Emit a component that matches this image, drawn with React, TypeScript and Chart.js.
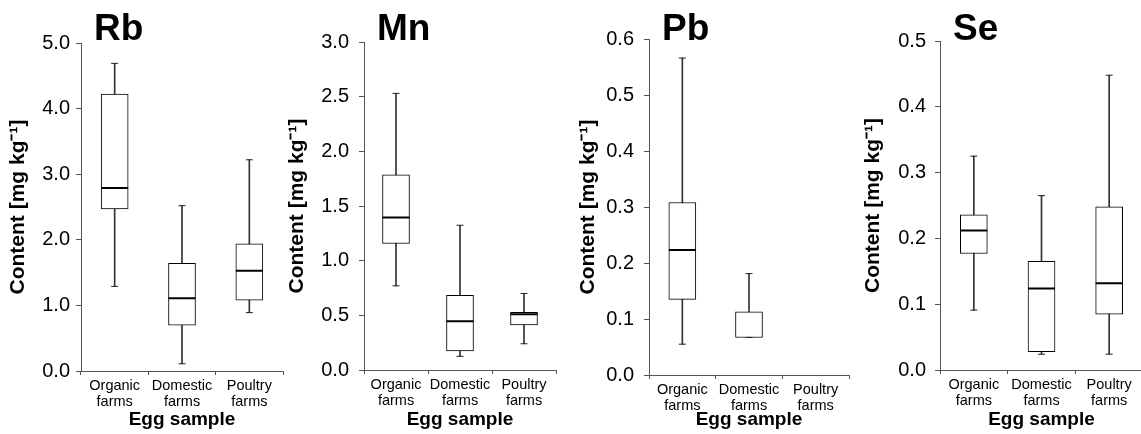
import React, { useEffect, useRef } from "react";
import { Chart, registerables } from "chart.js";

Chart.register(...registerables);

// ---------- DATA ----------
const categories = [
  ["Organic", "farms"],
  ["Domestic", "farms"],
  ["Poultry", "farms"],
];
const elementNames = ["Rb", "Mn", "Pb", "Se"];
const xAxisTitle = "Egg sample";
const yAxisTitle = "Content [mg kg⁻¹]";

// box-plot statistics per category: Organic, Domestic, Poultry
const rbMin = [1.29, 0.11, 0.89];
const rbQ1 = [2.47, 0.7, 1.08];
const rbMedian = [2.79, 1.11, 1.53];
const rbQ3 = [4.22, 1.64, 1.94];
const rbMax = [4.69, 2.52, 3.22];

const mnMin = [0.77, 0.125, 0.24];
const mnQ1 = [1.157, 0.174, 0.412];
const mnMedian = [1.395, 0.445, 0.51];
const mnQ3 = [1.785, 0.684, 0.528];
const mnMax = [2.53, 1.324, 0.7];

// Pb in poultry-farm eggs: no values shown
const pbMin = [0.055, 0.067, null];
const pbQ1 = [0.135, 0.067, null];
const pbMedian = [0.223, null, null];
const pbQ3 = [0.308, 0.113, null];
const pbMax = [0.566, 0.181, null];

const seMin = [0.091, 0.024, 0.024];
const seQ1 = [0.177, 0.028, 0.085];
const seMedian = [0.212, 0.124, 0.132];
const seQ3 = [0.236, 0.165, 0.248];
const seMax = [0.325, 0.265, 0.448];

const yMaxValues = [5, 3, 0.6, 0.5];
const yStepValues = [1, 0.5, 0.1, 0.1];

const stats = [
  { min: rbMin, q1: rbQ1, median: rbMedian, q3: rbQ3, max: rbMax },
  { min: mnMin, q1: mnQ1, median: mnMedian, q3: mnQ3, max: mnMax },
  { min: pbMin, q1: pbQ1, median: pbMedian, q3: pbQ3, max: pbMax },
  { min: seMin, q1: seQ1, median: seMedian, q3: seQ3, max: seMax },
];

// ---------- LAYOUT (pixel geometry of each panel) ----------
const W = 1141;
const H = 434;
const LAYOUT = [
  { left: 81, right: 283, top: 43, bottom: 371, yTitleX: 18, tickPad: 6 },
  { left: 364, right: 556, top: 42, bottom: 370, yTitleX: 297, tickPad: 10 },
  { left: 649, right: 849, top: 39, bottom: 375, yTitleX: 588, tickPad: 10 },
  { left: 940, right: 1143, top: 41, bottom: 370, yTitleX: 873, tickPad: 9 },
];

const FONT = '"Liberation Sans", Arial, Helvetica, sans-serif';
const AXIS_COLOR = "#555";

const panelTitlePlugin = {
  id: "panelTitle",
  afterDraw(chart: any, _args: any, opts: any) {
    const ctx = chart.ctx;
    ctx.save();
    ctx.font = `bold 37px ${FONT}`;
    ctx.fillStyle = "#000";
    ctx.textAlign = "left";
    ctx.textBaseline = "alphabetic";
    ctx.fillText(opts.text, chart.chartArea.left + 13, 40);
    ctx.restore();
  },
};

const pair = (a: (number | null)[], b: (number | null)[]) =>
  a.map((v, i) => (v == null || b[i] == null ? null : [v, b[i]]));

function Panel({ index }: { index: number }) {
  const ref = useRef<HTMLCanvasElement | null>(null);
  const lay = LAYOUT[index];
  const canvasLeft = lay.yTitleX - 14;
  const canvasWidth = lay.right + 10 - canvasLeft;

  useEffect(() => {
    if (!ref.current) return;
    const s = stats[index];
    const yAxisWidth = lay.left - canvasLeft;
    const xAxisHeight = H - lay.bottom;
    const chart = new Chart(ref.current, {
      type: "bar",
      data: {
        labels: categories as any,
        datasets: [
          {
            type: "bar",
            label: "whisker",
            data: pair(s.min, s.max) as any,
            backgroundColor: "#333",
            barThickness: 1,
            grouped: false,
            order: 3,
          },
          {
            type: "bar",
            label: "box",
            data: pair(s.q1, s.q3) as any,
            backgroundColor: "#fff",
            borderColor: "#000",
            borderWidth: 1,
            borderSkipped: false,
            barThickness: 27,
            grouped: false,
            order: 2,
          },
          {
            type: "line",
            label: "median",
            data: s.median,
            showLine: false,
            pointStyle: "line",
            pointRadius: 13.5,
            pointBorderWidth: 2,
            pointBorderColor: "#000",
            borderColor: "#000",
            order: 1,
          },
          {
            type: "line",
            label: "max",
            data: s.max,
            showLine: false,
            pointStyle: "line",
            pointRadius: 3.5,
            pointBorderWidth: 1,
            pointBorderColor: "#222",
            borderColor: "#222",
            order: 1,
          },
          {
            type: "line",
            label: "min",
            data: s.min,
            showLine: false,
            pointStyle: "line",
            pointRadius: 3.5,
            pointBorderWidth: 1,
            pointBorderColor: "#222",
            borderColor: "#222",
            order: 1,
          },
        ] as any,
      },
      options: {
        animation: false,
        responsive: false,
        maintainAspectRatio: false,
        layout: {
          autoPadding: false,
          padding: {
            left: 0,
            right: canvasWidth - (lay.right - canvasLeft),
            top: lay.top,
            bottom: 0,
          },
        },
        plugins: {
          legend: { display: false },
          tooltip: { enabled: false },
          panelTitle: { text: elementNames[index] },
        } as any,
        scales: {
          x: {
            type: "category",
            offset: true,
            grid: {
              offset: true,
              drawOnChartArea: false,
              tickLength: 4,
              color: AXIS_COLOR,
            },
            border: { color: AXIS_COLOR, width: 1 },
            ticks: {
              font: { family: FONT, size: 14.5, lineHeight: 1.12 },
              color: "#000",
              padding: 3,
              maxRotation: 0,
              autoSkip: false,
            },
            title: {
              display: true,
              text: xAxisTitle,
              color: "#000",
              font: { family: FONT, size: 19, weight: "bold", lineHeight: 1.2 },
              padding: { top: 0, bottom: 3 },
            },
            afterFit: (scale: any) => {
              scale.height = xAxisHeight;
            },
          },
          y: {
            min: 0,
            max: yMaxValues[index],
            ticks: {
              stepSize: yStepValues[index],
              callback: (v: any) => Number(v).toFixed(1),
              font: { family: FONT, size: 20 },
              color: "#000",
              padding: lay.tickPad,
            },
            grid: {
              drawOnChartArea: false,
              tickLength: 5,
              color: AXIS_COLOR,
            },
            border: { color: AXIS_COLOR, width: 1 },
            title: {
              display: true,
              text: yAxisTitle,
              color: "#000",
              font: { family: FONT, size: 21, weight: "bold", lineHeight: 1.2 },
              padding: { top: 2, bottom: 0 },
            },
            afterFit: (scale: any) => {
              scale.width = yAxisWidth;
            },
          },
        } as any,
      },
      plugins: [panelTitlePlugin as any],
    });
    return () => chart.destroy();
  }, [index]);

  return (
    <canvas
      ref={ref}
      width={canvasWidth}
      height={H}
      style={{
        position: "absolute",
        left: canvasLeft,
        top: 0,
        width: canvasWidth,
        height: H,
      }}
    />
  );
}

export default function App() {
  return (
    <div
      style={{
        position: "fixed",
        left: 0,
        top: 0,
        width: W,
        height: H,
        overflow: "hidden",
        background: "#fff",
      }}
    >
      {elementNames.map((_, i) => (
        <Panel key={i} index={i} />
      ))}
    </div>
  );
}
